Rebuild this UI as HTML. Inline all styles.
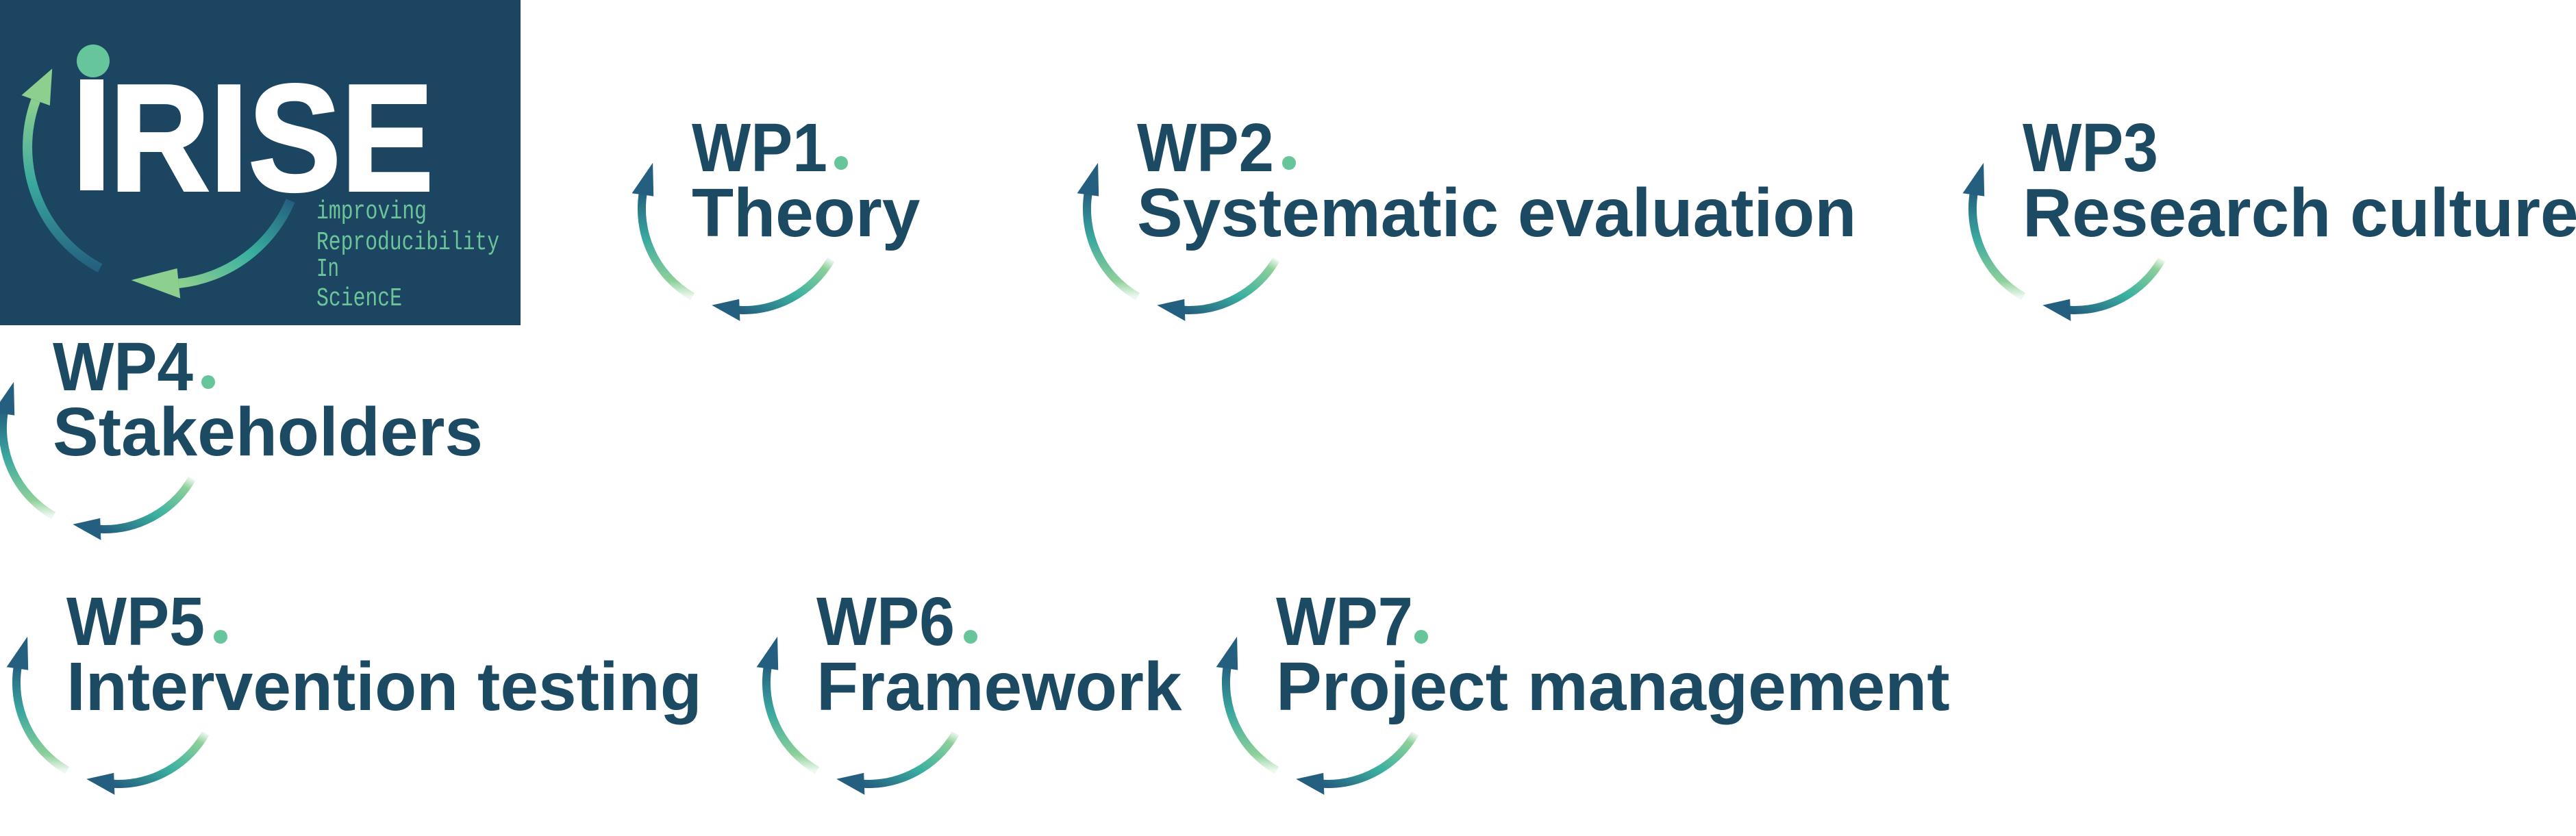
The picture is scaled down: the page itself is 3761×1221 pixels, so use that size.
<!DOCTYPE html>
<html><head><meta charset="utf-8"><style>
html,body{margin:0;padding:0;background:#fff;}
svg{display:block;}
.t{font-family:"Liberation Sans",sans-serif;font-weight:bold;font-size:100px;fill:#1c4a63;}
.m{font-family:"Liberation Mono",monospace;font-size:38px;fill:#6cc59a;}
</style></head><body>
<svg width="3761" height="1221" viewBox="0 0 3761 1221" xmlns="http://www.w3.org/2000/svg">
<defs>
<linearGradient id="gl" x1="0" y1="0" x2="0" y2="1">
<stop offset="0" stop-color="#245f80"/><stop offset="0.45" stop-color="#3aa89f"/><stop offset="0.85" stop-color="#8dd09a"/><stop offset="1" stop-color="#8dd09a" stop-opacity="0.15"/>
</linearGradient>
<linearGradient id="gr" x1="1" y1="0" x2="0" y2="1">
<stop offset="0" stop-color="#8dd09a" stop-opacity="0.15"/><stop offset="0.12" stop-color="#8dd09a"/><stop offset="0.55" stop-color="#3ab0a0"/><stop offset="1" stop-color="#245f80"/>
</linearGradient>
<linearGradient id="ll" x1="0" y1="0" x2="0" y2="1">
<stop offset="0" stop-color="#8dcf8f"/><stop offset="0.5" stop-color="#3aa89f"/><stop offset="1" stop-color="#24607f"/>
</linearGradient>
<linearGradient id="lr" x1="1" y1="0" x2="0" y2="1">
<stop offset="0" stop-color="#24607f"/><stop offset="0.5" stop-color="#3ab0a0"/><stop offset="1" stop-color="#8dcf8f"/>
</linearGradient>
<g id="cyc">
<path d="M -145.8 -25.7 A 148 148 0 0 0 -74 128.2" fill="none" stroke="url(#gl)" stroke-width="12"/>
<polygon points="-131.9,-67.2 -162.4,-22.8 -130.8,-18.4" fill="#245f80"/>
<path d="M 128.2 74 A 148 148 0 0 1 -7.7 147.8" fill="none" stroke="url(#gr)" stroke-width="12"/>
<polygon points="-45.7,140.8 -5.8,131.9 -4.6,163.9" fill="#245f80"/>
</g>
</defs>

<!-- Logo -->
<rect x="0" y="0" width="760" height="475" fill="#1b4560"/>
<path d="M 52.1 146.6 A 200 200 0 0 0 146.1 391.6" fill="none" stroke="url(#ll)" stroke-width="14"/>
<polygon points="76.2,100.3 31.4,139.1 72.8,154.1" fill="#8dcf8f"/>
<path d="M 424.1 293.1 A 200 200 0 0 1 260.9 413.9" fill="none" stroke="url(#lr)" stroke-width="14"/>
<polygon points="191.6,409.1 263.2,435.8 258.6,392" fill="#8dcf8f"/>
<circle cx="136" cy="89" r="24" fill="#66c59a"/>
<rect x="117" y="116" width="34" height="162" fill="#fff"/>
<text x="160" y="278" font-family="Liberation Sans,sans-serif" font-weight="bold" font-size="222" fill="#fff" stroke="#fff" stroke-width="4" textLength="473" lengthAdjust="spacingAndGlyphs">RISE</text>
<text class="m" x="462" y="319" textLength="161" lengthAdjust="spacingAndGlyphs">improving</text>
<text class="m" x="462" y="364" textLength="267" lengthAdjust="spacingAndGlyphs">Reproducibility</text>
<text class="m" x="462" y="403" textLength="33" lengthAdjust="spacingAndGlyphs">In</text>
<text class="m" x="462" y="446" textLength="125" lengthAdjust="spacingAndGlyphs">SciencE</text>

<!-- WP1 -->
<use href="#cyc" transform="translate(1085,305)"/>
<text class="t" x="1010" y="250" textLength="198" lengthAdjust="spacingAndGlyphs">WP1</text>
<circle cx="1228" cy="238" r="10" fill="#66c59a"/>
<text class="t" x="1010" y="345">Theory</text>

<!-- WP2 -->
<use href="#cyc" transform="translate(1735,305)"/>
<text class="t" x="1660" y="250" textLength="200" lengthAdjust="spacingAndGlyphs">WP2</text>
<circle cx="1882" cy="238" r="10" fill="#66c59a"/>
<text class="t" x="1660" y="345">Systematic evaluation</text>

<!-- WP3 -->
<use href="#cyc" transform="translate(3028,305)"/>
<text class="t" x="2953" y="250" textLength="198" lengthAdjust="spacingAndGlyphs">WP3</text>
<text class="t" x="2953" y="345">Research culture</text>

<!-- WP4 -->
<use href="#cyc" transform="translate(152,625)"/>
<text class="t" x="77" y="570" textLength="205" lengthAdjust="spacingAndGlyphs">WP4</text>
<circle cx="304" cy="558" r="10" fill="#66c59a"/>
<text class="t" x="77" y="665">Stakeholders</text>

<!-- WP5 -->
<use href="#cyc" transform="translate(172,997)"/>
<text class="t" x="97" y="942" textLength="202" lengthAdjust="spacingAndGlyphs">WP5</text>
<circle cx="322" cy="930" r="10" fill="#66c59a"/>
<text class="t" x="97" y="1037">Intervention testing</text>

<!-- WP6 -->
<use href="#cyc" transform="translate(1267,997)"/>
<text class="t" x="1192" y="942" textLength="202" lengthAdjust="spacingAndGlyphs">WP6</text>
<circle cx="1417" cy="930" r="10" fill="#66c59a"/>
<text class="t" x="1192" y="1037">Framework</text>

<!-- WP7 -->
<use href="#cyc" transform="translate(1938,997)"/>
<text class="t" x="1863" y="942" textLength="200" lengthAdjust="spacingAndGlyphs">WP7</text>
<circle cx="2075" cy="930" r="10" fill="#66c59a"/>
<text class="t" x="1863" y="1037">Project management</text>
</svg>
</body></html>
